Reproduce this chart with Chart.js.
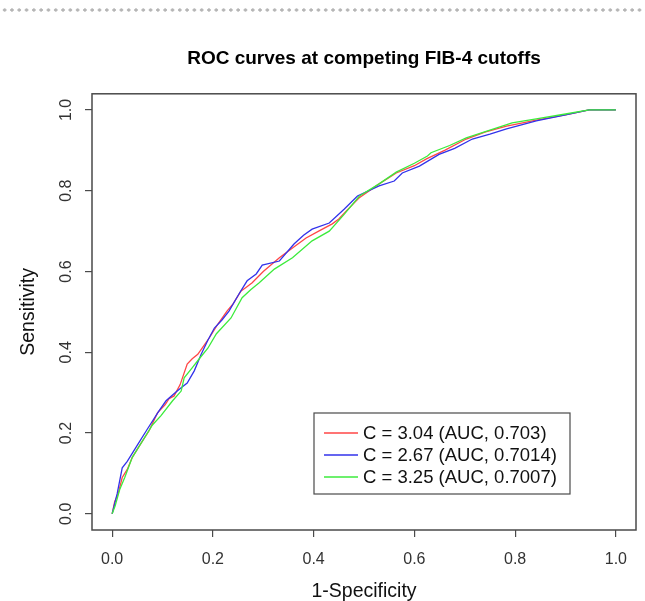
<!DOCTYPE html>
<html>
<head>
<meta charset="utf-8">
<title>ROC curves at competing FIB-4 cutoffs</title>
<script src="https://cdn.jsdelivr.net/npm/chart.js@4.4.1/dist/chart.umd.min.js"></script>
<style>
    body { margin: 0; background: #fff; }
    #wrap { position: relative; width: 645px; height: 601px; }
    #dots {
        position: absolute; left: 0; top: 8px; width: 645px; height: 4px;
        background-image: radial-gradient(circle, #b5b5b5 1.4px, transparent 1.9px);
        background-size: 7.3px 4px;
        background-position: 1px 0;
    }
    canvas { position: absolute; left: 0; top: 0; }
</style>
</head>
<body>
<div id="wrap">
    <canvas id="rocChart" width="645" height="601"></canvas>
    <div id="dots"></div>
</div>
<script>
// Data
const tickValues = [0, 0.2, 0.4, 0.6, 0.8, 1.0];

const seriesLabels = ['C = 3.04 (AUC, 0.703)', 'C = 2.67 (AUC, 0.7014)', 'C = 3.25 (AUC, 0.7007)'];
const seriesColors = ['rgb(255, 70, 70)', 'rgb(50, 50, 235)', 'rgb(60, 235, 60)'];

const fprC304 = [0, 0.005, 0.012, 0.02, 0.03, 0.04, 0.055, 0.073, 0.09, 0.105, 0.113, 0.123, 0.135, 0.149, 0.159, 0.17, 0.179, 0.193, 0.21, 0.228, 0.24, 0.256, 0.265, 0.278, 0.3, 0.332, 0.36, 0.385, 0.41, 0.437, 0.45, 0.465, 0.49, 0.53, 0.564, 0.6, 0.624, 0.66, 0.703, 0.74, 0.783, 0.842, 0.9, 0.947, 1.0];
const tprC304 = [0, 0.03, 0.05, 0.09, 0.11, 0.14, 0.17, 0.205, 0.25, 0.27, 0.285, 0.292, 0.32, 0.371, 0.384, 0.395, 0.411, 0.436, 0.47, 0.502, 0.52, 0.552, 0.56, 0.572, 0.6, 0.634, 0.66, 0.683, 0.70, 0.718, 0.73, 0.75, 0.782, 0.817, 0.844, 0.862, 0.879, 0.90, 0.928, 0.945, 0.96, 0.975, 0.988, 1.0, 1.0];

const fprC267 = [0, 0.004, 0.01, 0.02, 0.03, 0.05, 0.07, 0.093, 0.107, 0.125, 0.137, 0.149, 0.163, 0.177, 0.19, 0.203, 0.218, 0.232, 0.252, 0.268, 0.286, 0.298, 0.332, 0.361, 0.38, 0.397, 0.431, 0.461, 0.487, 0.53, 0.56, 0.576, 0.61, 0.649, 0.68, 0.715, 0.75, 0.783, 0.842, 0.9, 0.947, 1.0];
const tprC267 = [0, 0.02, 0.05, 0.114, 0.13, 0.17, 0.21, 0.255, 0.28, 0.30, 0.312, 0.324, 0.354, 0.396, 0.43, 0.46, 0.48, 0.502, 0.545, 0.577, 0.594, 0.616, 0.626, 0.668, 0.69, 0.705, 0.72, 0.755, 0.787, 0.812, 0.824, 0.844, 0.861, 0.89, 0.905, 0.928, 0.94, 0.953, 0.973, 0.988, 1.0, 1.0];

const fprC325 = [0, 0.006, 0.015, 0.025, 0.04, 0.06, 0.08, 0.097, 0.12, 0.137, 0.143, 0.158, 0.173, 0.19, 0.207, 0.236, 0.258, 0.275, 0.292, 0.322, 0.358, 0.397, 0.431, 0.461, 0.491, 0.53, 0.564, 0.6, 0.626, 0.633, 0.67, 0.703, 0.75, 0.794, 0.842, 0.9, 0.947, 1.0];
const tprC325 = [0, 0.02, 0.06, 0.09, 0.14, 0.18, 0.22, 0.243, 0.28, 0.304, 0.337, 0.36, 0.384, 0.41, 0.446, 0.485, 0.535, 0.555, 0.572, 0.606, 0.634, 0.676, 0.70, 0.742, 0.787, 0.817, 0.846, 0.868, 0.886, 0.894, 0.912, 0.931, 0.95, 0.968, 0.978, 0.99, 1.0, 1.0];

const FONT = '"Liberation Sans", Arial, sans-serif';

function toPoints(xs, ys) {
    return xs.map((x, i) => ({ x: x, y: ys[i] }));
}

// box round the plot area, like R's bty="o"
const boxPlugin = {
    id: 'plotBox',
    afterDraw(chart) {
        const a = chart.chartArea;
        const ctx = chart.ctx;
        ctx.save();
        ctx.strokeStyle = '#4a4a4a';
        ctx.lineWidth = 1.5;
        ctx.strokeRect(a.left, a.top, a.right - a.left, a.bottom - a.top);
        ctx.restore();
    }
};

// legend inside the plot, bottom right
const insideLegend = {
    id: 'insideLegend',
    afterDraw(chart) {
        const ctx = chart.ctx;
        const left = 314, top = 413, w = 256, h = 81;
        ctx.save();
        ctx.fillStyle = '#fff';
        ctx.fillRect(left, top, w, h);
        ctx.strokeStyle = '#4a4a4a';
        ctx.lineWidth = 1.2;
        ctx.strokeRect(left, top, w, h);
        ctx.font = '18.5px ' + FONT;
        ctx.textBaseline = 'middle';
        chart.data.datasets.forEach((ds, i) => {
            const y = top + 20 + i * 22;
            ctx.strokeStyle = ds.borderColor;
            ctx.lineWidth = 1.5;
            ctx.beginPath();
            ctx.moveTo(left + 10, y);
            ctx.lineTo(left + 44, y);
            ctx.stroke();
            ctx.fillStyle = '#111';
            ctx.fillText(ds.label, left + 49, y + 1);
        });
        ctx.restore();
    }
};

const fprSets = [fprC304, fprC267, fprC325];
const tprSets = [tprC304, tprC267, tprC325];

const datasets = seriesLabels.map((label, i) => ({
    label: label,
    data: toPoints(fprSets[i], tprSets[i]),
    borderColor: seriesColors[i],
    backgroundColor: seriesColors[i],
    borderWidth: 1.3,
    pointRadius: 0,
    showLine: true,
    tension: 0,
    order: 2 - i
}));

function setTicks(scale) {
    scale.ticks = tickValues.map(v => ({ value: v }));
}

new Chart(document.getElementById('rocChart'), {
    type: 'scatter',
    data: { datasets: datasets },
    plugins: [boxPlugin, insideLegend],
    options: {
        responsive: false,
        animation: false,
        layout: { padding: { left: 0, right: 9, top: 0, bottom: 0 } },
        plugins: {
            legend: { display: false },
            tooltip: { enabled: false },
            title: {
                display: true,
                fullSize: false,
                text: 'ROC curves at competing FIB-4 cutoffs',
                color: '#000',
                font: { family: FONT, size: 19, weight: 'bold' },
                padding: { top: 47, bottom: 24 }
            }
        },
        scales: {
            x: {
                type: 'linear',
                min: -0.04,
                max: 1.04,
                afterBuildTicks: setTicks,
                afterFit: s => { s.height = 71; },
                grid: { drawOnChartArea: false, tickLength: 7, color: '#4a4a4a', lineWidth: 1.2 },
                border: { display: false },
                ticks: {
                    color: '#333',
                    padding: 13,
                    font: { family: FONT, size: 16 },
                    maxRotation: 0,
                    callback: v => v.toFixed(1)
                },
                title: {
                    display: true,
                    text: '1-Specificity',
                    color: '#111',
                    font: { family: FONT, size: 19.5 },
                    padding: { top: 0, bottom: -2 }
                }
            },
            y: {
                type: 'linear',
                min: -0.04,
                max: 1.04,
                afterBuildTicks: setTicks,
                afterFit: s => { s.width = 92; },
                grid: { drawOnChartArea: false, tickLength: 7, color: '#4a4a4a', lineWidth: 1.2 },
                border: { display: false },
                ticks: {
                    color: '#333',
                    padding: 7,
                    crossAlign: 'center',
                    minRotation: 90,
                    maxRotation: 90,
                    font: { family: FONT, size: 16 },
                    callback: v => v.toFixed(1)
                },
                title: {
                    display: true,
                    text: 'Sensitivity',
                    color: '#111',
                    font: { family: FONT, size: 19.5 },
                    padding: { top: 17, bottom: 0 }
                }
            }
        }
    }
});
</script>
</body>
</html>
